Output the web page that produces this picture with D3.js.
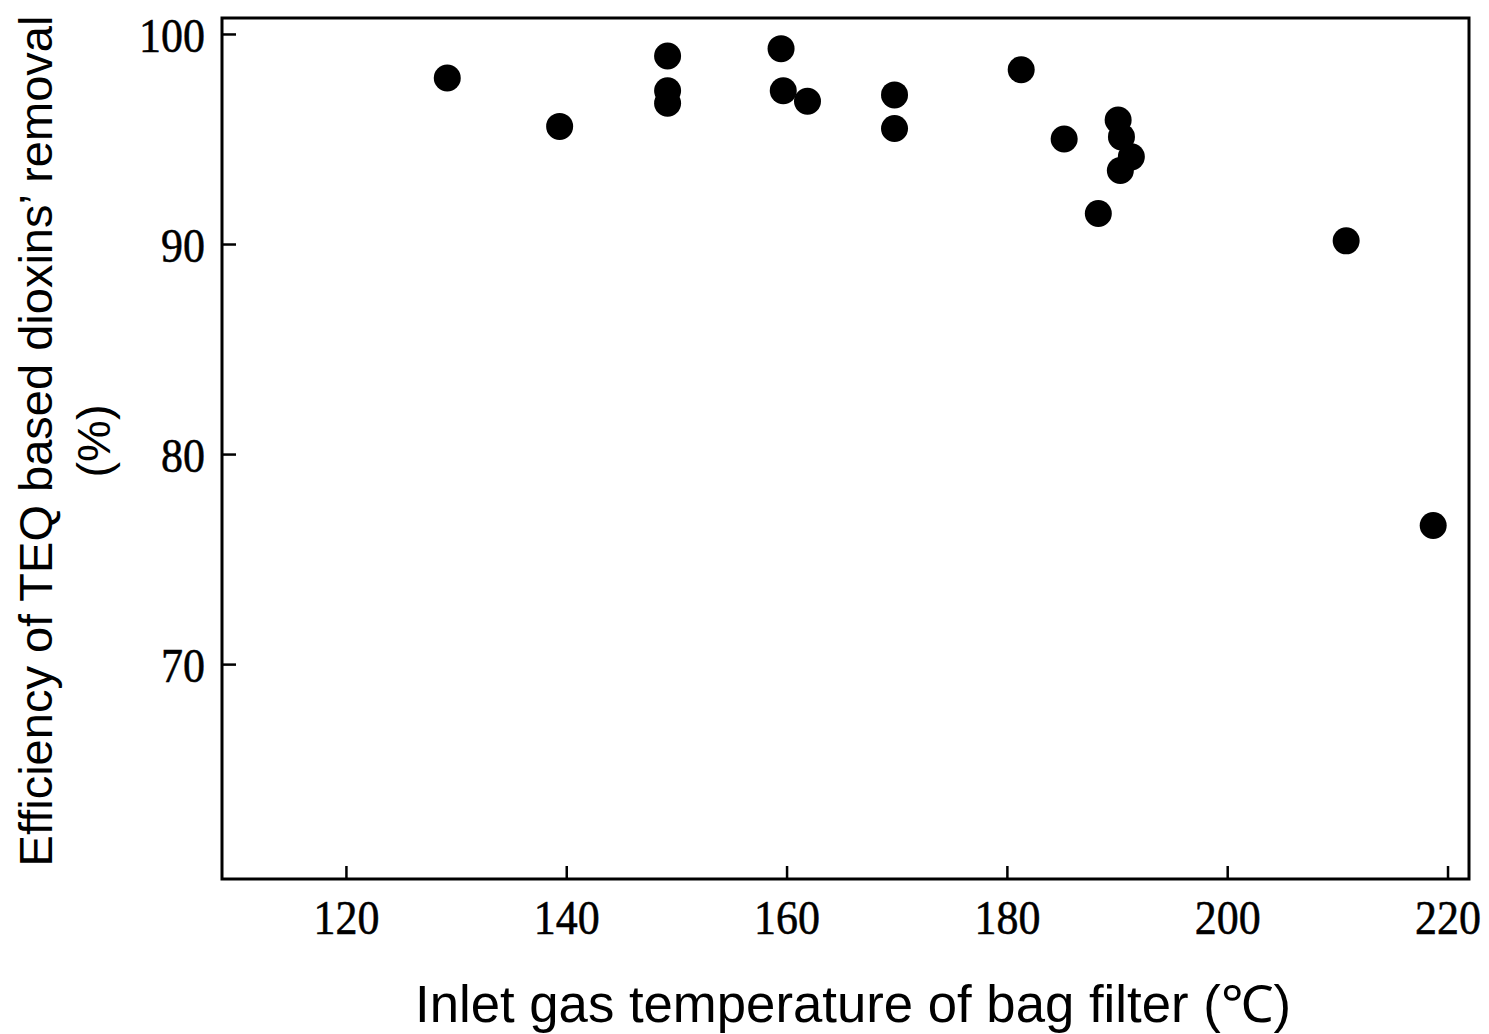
<!DOCTYPE html>
<html>
<head>
<meta charset="utf-8">
<script src="https://cdn.jsdelivr.net/npm/d3@7"></script>
<style>
  html, body { margin: 0; padding: 0; background: #fff; }
  svg { display: block; }
</style>
</head>
<body>
<svg id="chart" width="1489" height="1034"></svg>
<script>
// Inlet gas temperature at the bag filter (°C)
const temperature = [129.2, 139.4, 149.2, 149.2, 149.2, 159.5, 159.7, 161.9, 169.8, 169.8,
                     181.3, 185.2, 190.1, 190.4, 191.3, 190.3, 188.3, 210.8, 218.7];
// TEQ-based dioxin removal efficiency (%)
const efficiency  = [97.9, 95.6, 98.95, 97.3, 96.7, 99.3, 97.3, 96.8, 97.1, 95.5,
                     98.3, 95.0, 95.9, 95.1, 94.15, 93.5, 91.45, 90.15, 76.6];

const xTicks = [120, 140, 160, 180, 200, 220];
const yTicks = [70, 80, 90, 100];

const xTitle = "Inlet gas temperature of bag filter (\u2103)";
const yTitleLines = ["Efficiency of TEQ based dioxins\u2019 removal", "(%)"];

const svg = d3.select("#chart");
const plot = { left: 222, right: 1469, top: 18, bottom: 879 };

const x = d3.scaleLinear().domain([108.75, 221.95]).range([plot.left, plot.right]);
const y = d3.scaleLinear().domain([59.77, 100.76]).range([plot.bottom, plot.top]);

const serif = "'Liberation Serif', 'Times New Roman', serif";
const sans = "'Liberation Sans', Arial, sans-serif";
const tallY = 1.12; // tick numerals are drawn slightly taller than wide

// frame
svg.append("rect")
  .attr("x", plot.left).attr("y", plot.top)
  .attr("width", plot.right - plot.left).attr("height", plot.bottom - plot.top)
  .attr("fill", "none").attr("stroke", "#000").attr("stroke-width", 3);

// x axis, ticks pointing into the plot
const gx = svg.append("g")
  .attr("transform", `translate(0,${plot.bottom})`)
  .call(d3.axisBottom(x).tickValues(xTicks).tickSize(-13).tickPadding(0).tickFormat(d3.format("d")));
gx.select(".domain").remove();
gx.selectAll(".tick line").attr("stroke", "#000").attr("stroke-width", 2.5);
gx.selectAll(".tick text")
  .attr("transform", `scale(1,${tallY})`)
  .attr("y", 55 / tallY).attr("dy", null)
  .attr("fill", "#000")
  .attr("stroke", "#000").attr("stroke-width", 0.5)
  .style("font-family", serif).style("font-size", "44px")
  .attr("text-anchor", "middle");

// y axis, ticks pointing into the plot
const gy = svg.append("g")
  .attr("transform", `translate(${plot.left},0)`)
  .call(d3.axisLeft(y).tickValues(yTicks).tickSize(-14).tickPadding(17).tickFormat(d3.format("d")));
gy.select(".domain").remove();
gy.selectAll(".tick line").attr("stroke", "#000").attr("stroke-width", 2.5);
gy.selectAll(".tick text")
  .attr("transform", `scale(1,${tallY})`)
  .attr("y", 1).attr("dy", "0.33em")
  .attr("fill", "#000")
  .attr("stroke", "#000").attr("stroke-width", 0.5)
  .style("font-family", serif).style("font-size", "44px");

// data points
svg.append("g")
  .selectAll("circle")
  .data(d3.range(temperature.length))
  .join("circle")
  .attr("cx", i => x(temperature[i]))
  .attr("cy", i => y(efficiency[i]))
  .attr("r", 13.5)
  .attr("fill", "#000");

// x axis title
svg.append("text")
  .attr("x", 415).attr("y", 1022)
  .attr("textLength", 876).attr("lengthAdjust", "spacingAndGlyphs")
  .style("font-family", sans).style("font-size", "51px")
  .attr("fill", "#000")
  .text(xTitle);

// y axis title (two lines, rotated)
const yt = svg.append("text")
  .attr("transform", "translate(0,441) rotate(-90)")
  .style("font-family", sans).style("font-size", "47px")
  .attr("fill", "#000")
  .attr("text-anchor", "middle");
yt.append("tspan").attr("x", 0).attr("y", 52)
  .text(yTitleLines[0]);
yt.append("tspan").attr("x", 0).attr("y", 110)
  .text(yTitleLines[1]);
</script>
</body>
</html>
